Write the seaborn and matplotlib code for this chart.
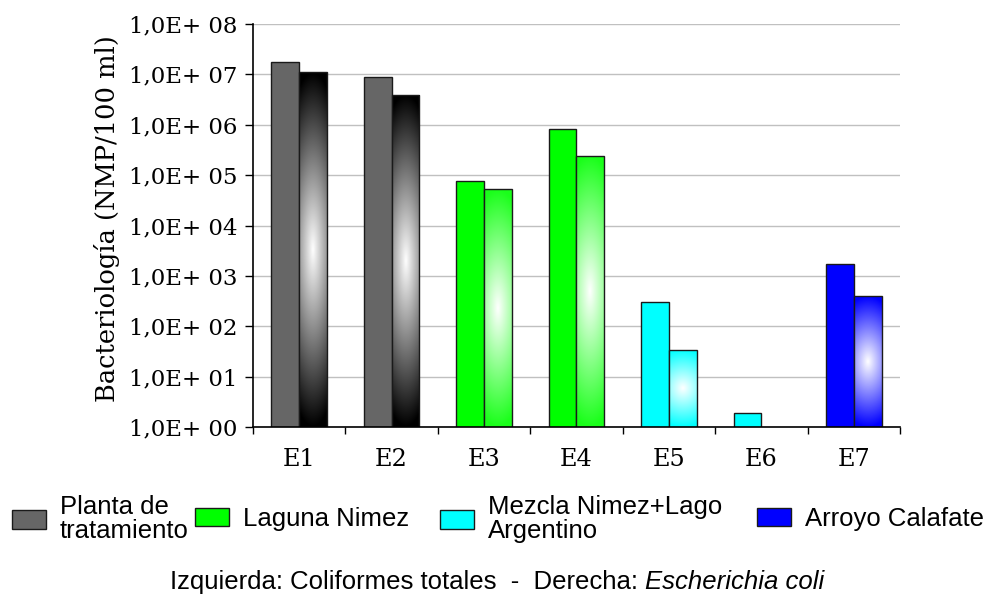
import numpy as np
import pandas as pd
import matplotlib
matplotlib.use("Agg")
import matplotlib.pyplot as plt
import seaborn as sns
from matplotlib.patches import Patch
from matplotlib.ticker import FixedLocator, FuncFormatter, NullLocator

estaciones = ["E1", "E2", "E3", "E4", "E5", "E6", "E7"]
coliformes_totales = [1.75e7, 8.9e6, 7.5e4, 8.1e5, 300, 1.9, 1700]
escherichia_coli = [1.1e7, 3.9e6, 5.2e4, 2.4e5, 34, np.nan, 390]
sitios = ["Planta de\ntratamiento", "Planta de\ntratamiento", "Laguna Nimez", "Laguna Nimez",
          "Mezcla Nimez+Lago\nArgentino", "Mezcla Nimez+Lago\nArgentino", "Arroyo Calafate"]
orden_sitios = ["Planta de\ntratamiento", "Laguna Nimez", "Mezcla Nimez+Lago\nArgentino", "Arroyo Calafate"]
colores = {"Planta de\ntratamiento": "#666666", "Laguna Nimez": "#00ff00",
           "Mezcla Nimez+Lago\nArgentino": "#00ffff", "Arroyo Calafate": "#0000ff"}
colores_grad = {"Planta de\ntratamiento": "#000000", "Laguna Nimez": "#1aff1a",
                "Mezcla Nimez+Lago\nArgentino": "#00ffff", "Arroyo Calafate": "#0000ff"}

df = pd.DataFrame({
    "estacion": estaciones * 2,
    "medida": ["Izquierda"] * 7 + ["Derecha"] * 7,
    "valor": coliformes_totales + escherichia_coli,
}).dropna()

sns.set_style("white")
plt.rcParams["font.family"] = ["DejaVu Serif"]
plt.rcParams["text.color"] = "black"
plt.rcParams["axes.labelcolor"] = "black"
plt.rcParams["xtick.color"] = "black"
plt.rcParams["ytick.color"] = "black"

fig = plt.figure(figsize=(9.89, 6.08), dpi=100)
ax = fig.add_axes([0.2558, 0.2977, 0.6542, 0.6628])

sns.barplot(data=df, x="estacion", y="valor", hue="medida", order=estaciones,
            hue_order=["Izquierda", "Derecha"], width=0.6, errorbar=None,
            palette=["#666666", "#000000"], legend=False, log_scale=True, ax=ax)

# barras desde 0 en escala log: recortar en vez de enmascarar
ax.set_yscale("log", nonpositive="clip")
ax.set_ylim(1, 1e8)
ax.set_xlim(-0.5, 6.5)
ax.set_autoscale_on(False)

# colores por sitio; barras derechas con degradado
to_axes = ax.transData + ax.transAxes.inverted()
for p in list(ax.patches):
    cx = p.get_x() + p.get_width() / 2
    i = int(round(cx))
    sitio = sitios[i]
    p.set_edgecolor("#1a1a1a")
    p.set_linewidth(1)
    if cx < i:
        p.set_facecolor(colores[sitio])
        continue
    x0, y1 = to_axes.transform((p.get_x(), p.get_y() + p.get_height()))
    x1, _ = to_axes.transform((p.get_x() + p.get_width(), p.get_y() + p.get_height()))
    y0 = 0.0
    yy = np.linspace(0, 1, 200)[:, None]
    xx = np.linspace(0, 1, 40)[None, :]
    d = np.clip(np.sqrt((2 * np.abs(yy - 0.5)) ** 2 + 0.15 * (2 * np.abs(xx - 0.5)) ** 2), 0, 1)
    base = np.array(matplotlib.colors.to_rgb(colores_grad[sitio]))
    img = (1 - d[..., None]) * 1.0 + d[..., None] * base
    im = ax.imshow(img, extent=[x0, x1, y0, y1], transform=ax.transAxes,
                   aspect="auto", zorder=1.5, interpolation="bilinear")
    im.set_clip_path(p)
    p.set_facecolor("none")
    p.set_zorder(2)

ax.set_xlim(-0.5, 6.5)
ax.set_ylim(1, 1e8)

ax.yaxis.set_major_locator(FixedLocator(10.0 ** np.arange(0, 9)))
ax.yaxis.set_minor_locator(NullLocator())
ax.yaxis.set_major_formatter(FuncFormatter(lambda v, pos: "1,0E+ %02d" % round(np.log10(v))))
ax.tick_params(axis="y", which="major", direction="out", length=6, width=1, labelsize=16.5, pad=5, left=True)
ax.set_xticks(np.arange(-0.5, 7), minor=True)
ax.tick_params(axis="x", which="major", length=0, labelsize=17.3, pad=15)
ax.tick_params(axis="x", which="minor", direction="out", length=5, width=1, bottom=True)

ax.yaxis.grid(True, color="#c0c0c0", linewidth=1)
ax.xaxis.grid(False)
ax.set_axisbelow(True)
for s in ["top", "right"]:
    ax.spines[s].set_visible(False)
for s in ["left", "bottom"]:
    ax.spines[s].set_color("black")
    ax.spines[s].set_linewidth(1.2)

ax.set_xlabel("")
ax.set_ylabel("Bacteriología (NMP/100 ml)", fontsize=18.5)
ax.yaxis.set_label_coords(-0.206, 0.516)

# leyenda: una entrada por sitio
pos_leyenda = [12, 195, 440, 757]
for sitio, xpx in zip(orden_sitios, pos_leyenda):
    leg = fig.legend(handles=[Patch(facecolor=colores[sitio], edgecolor="#1a1a1a", label=sitio)],
                     loc="center left", bbox_to_anchor=(xpx / 989, 1 - 519 / 608),
                     frameon=False, borderpad=0, borderaxespad=0, handlelength=1.32,
                     handleheight=0.74, handletextpad=0.55,
                     prop={"family": "Liberation Sans", "size": 18.5})
    for t in leg.get_texts():
        t.set_linespacing(1.05)
        t.set_color("black")

t1 = fig.text(170 / 989, 1 - 589 / 608, "Izquierda: Coliformes totales  -  Derecha: ",
              ha="left", va="baseline", family="Liberation Sans", fontsize=18.5)
fig.canvas.draw()
bb = t1.get_window_extent()
fig.text(bb.x1 / fig.bbox.width, 1 - 589 / 608, "Escherichia coli", ha="left", va="baseline",
         family="Liberation Sans", style="italic", fontsize=18.5)

plt.savefig("out.png", dpi=100)
